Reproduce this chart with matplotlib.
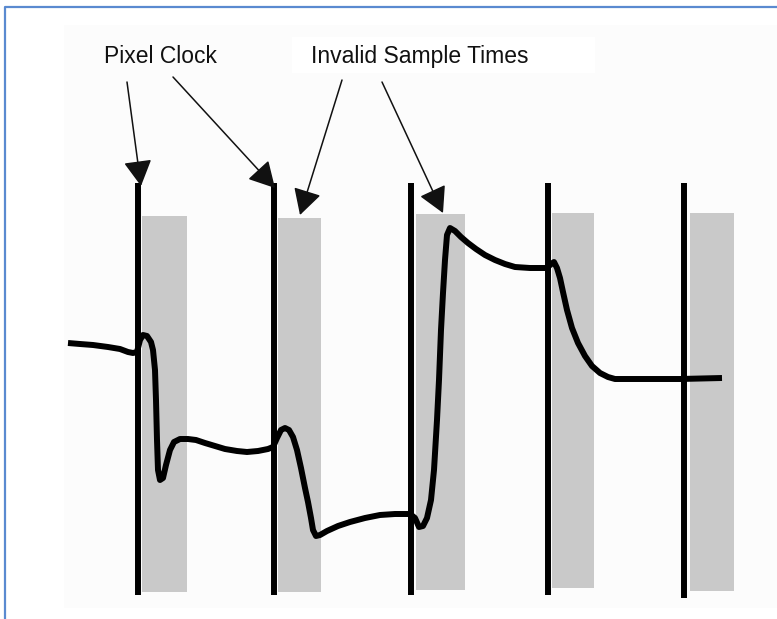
import matplotlib
matplotlib.use("Agg")
import matplotlib.pyplot as plt
from matplotlib.patches import Rectangle, FancyArrowPatch

# pixel clock edges (image pixel coords, y grows downward)
clock_x = [138, 274, 411, 548, 684]
clock_top = [183, 183, 183, 183, 183]
clock_bottom = [595, 595, 595, 595, 598]

# invalid sample time windows
gray_left = [142, 278, 416, 552, 690]
gray_right = [187, 321, 465, 594, 734]
gray_top = [216, 218, 214, 213, 213]
gray_bottom = [592, 592, 590, 588, 591]

# analog video waveform
wave_x = [68, 80, 93, 108, 120, 128, 133, 137, 140, 143, 147, 151, 153, 155, 156, 157,
          158, 160, 163, 166, 170, 174, 180, 188, 196, 205, 215, 225, 237, 247, 258, 268,
          273, 277, 281, 285, 289, 293, 297, 301, 305, 308, 311, 313, 316, 320, 327, 338,
          350, 365, 380, 395, 410, 415, 419, 423, 427, 431, 434, 437, 439, 441, 443, 445,
          447, 450, 455, 461, 468, 476, 485, 495, 505, 515, 530, 547, 551, 554, 557, 560,
          563, 567, 572, 578, 585, 592, 600, 608, 615, 640, 680, 722]
wave_y = [343, 344, 345, 347, 349, 352, 353, 352, 340, 335, 336, 342, 350, 370, 400, 440,
          470, 480, 478, 465, 450, 442, 439, 439, 440, 443, 446, 449, 451, 452, 451, 449,
          447, 438, 430, 428, 430, 437, 450, 468, 488, 502, 518, 530, 536, 535, 531, 526,
          522, 518, 515, 514, 514, 518, 527, 526, 518, 500, 470, 420, 380, 330, 293, 260,
          235, 228, 231, 237, 243, 249, 255, 260, 264, 267, 268, 268, 264, 262, 268, 278,
          292, 310, 328, 343, 356, 366, 373, 377, 379, 379, 379, 378]

# callouts: label text, label baseline position, arrow starts and tips
labels = ["Pixel Clock", "Invalid Sample Times"]
label_x = [160, 420]
label_y = [63, 63]
arrow_start = [(127, 82), (173, 77), (342, 80), (382, 82)]
arrow_tip = [(141, 186), (275, 188), (300, 215), (443, 213)]

fig = plt.figure(figsize=(7.77, 6.19), dpi=100)
ax = fig.add_axes([0, 0, 1, 1])
ax.set_xlim(0, 777)
ax.set_ylim(619, 0)
ax.axis("off")

# very faint background panel and frame
ax.add_patch(Rectangle((64, 25), 713, 583, fc="#fcfcfc", ec="none", zorder=0))
ax.add_patch(Rectangle((292, 37), 303, 36, fc="white", ec="none", zorder=0.5))
ax.plot([5, 5, 777], [619, 7, 7], color="#5a8ad0", lw=1.6, zorder=1)

for x0, x1, t, b in zip(gray_left, gray_right, gray_top, gray_bottom):
    ax.add_patch(Rectangle((x0, t), x1 - x0, b - t, fc="#c9c9c9", ec="none", zorder=1))

for x, t, b in zip(clock_x, clock_top, clock_bottom):
    ax.plot([x, x], [t, b], color="black", lw=4.3, solid_capstyle="butt", zorder=2)

ax.plot(wave_x, wave_y, color="black", lw=4.3, solid_joinstyle="round",
        solid_capstyle="butt", zorder=3)

for s, e in zip(arrow_start, arrow_tip):
    ax.add_patch(FancyArrowPatch(s, e, arrowstyle="-|>,head_length=1.0,head_width=0.55",
                                 mutation_scale=16, color="#111111", lw=1.1,
                                 shrinkA=0, shrinkB=0, zorder=4))

for t, x, y in zip(labels, label_x, label_y):
    ax.text(x, y, t, ha="center", va="baseline", fontsize=16.5,
            family=["Liberation Sans", "DejaVu Sans"], color="#111111", zorder=5)

fig.savefig("out.png", dpi=100)
